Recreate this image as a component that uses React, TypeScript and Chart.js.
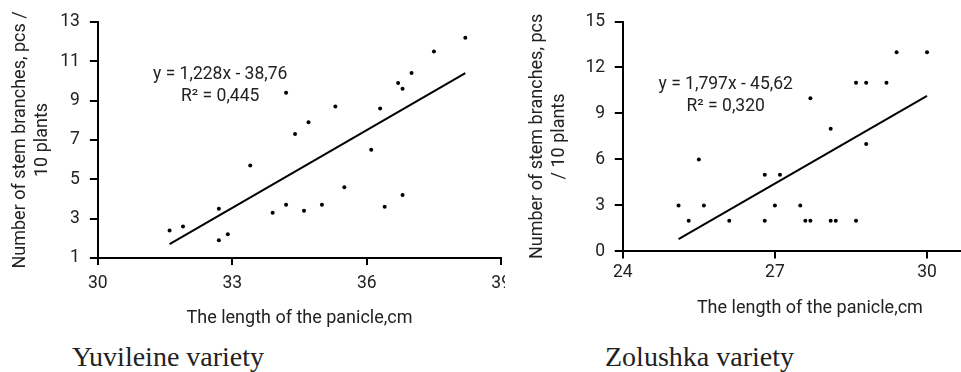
import React, { useEffect, useRef } from "react";
import { Chart, registerables } from "chart.js";

Chart.register(...registerables);

// ---- Yuvileine variety ----
const yuvLength = [38.2, 37.5, 37.0, 36.7, 36.8, 34.2, 35.3, 36.3, 34.7, 34.4, 36.1, 33.4, 35.5, 36.8, 34.2, 35.0, 36.4, 34.6, 33.9, 32.7, 31.9, 31.6, 32.9, 32.7];
const yuvBranches = [12.2, 11.5, 10.4, 9.9, 9.6, 9.4, 8.7, 8.6, 7.9, 7.3, 6.5, 5.7, 4.6, 4.2, 3.7, 3.7, 3.6, 3.4, 3.3, 3.5, 2.6, 2.4, 2.2, 1.9];
const yuvTrendX = [31.6, 38.2];
const yuvTrendY = [1.7, 10.4];
const yuvEquation = ["y = 1,228x - 38,76", "R² = 0,445"];
const yuvEqAt = { x: 32.73, y: [10.34, 9.21] };
const yuvXTicks = { min: 30, max: 39, step: 3 };
const yuvYTicks = { min: 1, max: 13, step: 2 };

// ---- Zolushka variety ----
const zolLength = [29.4, 30.0, 28.6, 28.8, 29.2, 27.7, 28.1, 28.8, 25.5, 26.8, 27.1, 25.1, 25.6, 27.0, 27.5, 25.3, 26.1, 26.8, 27.6, 27.7, 28.1, 28.2, 28.6];
const zolBranches = [13, 13, 11, 11, 11, 10, 8, 7, 6, 5, 5, 3, 3, 3, 3, 2, 2, 2, 2, 2, 2, 2, 2];
const zolTrendX = [25.1, 30.0];
const zolTrendY = [0.8, 10.15];
const zolEquation = ["y = 1,797x - 45,62", "R² = 0,320"];
const zolEqAt = { x: 26.03, y: [10.89, 9.42] };
const zolXTicks = { min: 24, max: 31.38, step: 3 };
const zolYTicks = { min: 0, max: 15, step: 3 };

const xTitle = "The length of the panicle,cm";
const yuvYTitle = ["Number of stem branches, pcs /", "10 plants"];
const zolYTitle = ["Number of stem branches, pcs", "/ 10 plants"];

const FONT = "Roboto";
const TEXT = "#222";

const eqPlugin = {
  id: "eq",
  afterDatasetsDraw(chart: any, _args: any, opts: any) {
    if (!opts || !opts.lines) return;
    const { ctx, scales } = chart;
    ctx.save();
    ctx.font = `17.5px ${FONT}`;
    ctx.fillStyle = TEXT;
    ctx.textAlign = "center";
    ctx.textBaseline = "middle";
    opts.lines.forEach((t: string, i: number) => {
      ctx.fillText(t, scales.x.getPixelForValue(opts.x), scales.y.getPixelForValue(opts.y[i]));
    });
    ctx.restore();
  },
};

type Cfg = {
  xs: number[];
  ys: number[];
  tx: number[];
  ty: number[];
  eq: string[];
  eqAt: { x: number; y: number[] };
  xt: { min: number; max: number; step: number };
  yt: { min: number; max: number; step: number };
  yTitle: string[];
  width: number;
  height: number;
  padding: any;
  yTitlePad: any;
  yTickPad: number;
  xTickPad: number;
  xTitlePad: any;
};

function Scatter({ cfg }: { cfg: Cfg }) {
  const ref = useRef<HTMLCanvasElement | null>(null);
  useEffect(() => {
    let chart: Chart | null = null;
    let cancelled = false;
    const make = () => {
      if (cancelled || !ref.current) return;
      const points = cfg.xs.map((x, i) => ({ x, y: cfg.ys[i] }));
      const trend = cfg.tx.map((x, i) => ({ x, y: cfg.ty[i] }));
      chart = new Chart(ref.current, {
        type: "scatter",
        data: {
          datasets: [
            {
              data: points,
              pointRadius: 2,
              pointHoverRadius: 2,
              backgroundColor: "#000",
              borderColor: "#000",
              borderWidth: 0,
            },
            {
              type: "line",
              data: trend,
              showLine: true,
              pointRadius: 0,
              borderColor: "#000",
              borderWidth: 2,
              fill: false,
            } as any,
          ],
        },
        options: {
          responsive: false,
          animation: false,
          devicePixelRatio: 1,
          layout: { padding: cfg.padding },
          plugins: {
            legend: { display: false },
            tooltip: { enabled: false },
            eq: { lines: cfg.eq, x: cfg.eqAt.x, y: cfg.eqAt.y },
          } as any,
          scales: {
            x: {
              type: "linear",
              min: cfg.xt.min,
              max: cfg.xt.max,
              ticks: {
                stepSize: cfg.xt.step,
                includeBounds: false,
                font: { family: FONT, size: 17.5 },
                color: TEXT,
                padding: cfg.xTickPad,
                maxRotation: 0,
              },
              grid: { drawOnChartArea: false, drawTicks: true, tickLength: 7, color: "#000", lineWidth: 2 },
              border: { display: true, color: "#000", width: 2 },
              title: {
                display: true,
                text: xTitle,
                font: { family: FONT, size: 18 },
                color: TEXT,
                padding: cfg.xTitlePad,
              },
            },
            y: {
              type: "linear",
              min: cfg.yt.min,
              max: cfg.yt.max,
              ticks: {
                stepSize: cfg.yt.step,
                font: { family: FONT, size: 17.5 },
                color: TEXT,
                padding: cfg.yTickPad,
              },
              grid: { drawOnChartArea: false, drawTicks: true, tickLength: 8, color: "#000", lineWidth: 2 },
              border: { display: true, color: "#000", width: 2 },
              title: {
                display: true,
                text: cfg.yTitle,
                font: { family: FONT, size: 18 },
                color: TEXT,
                padding: cfg.yTitlePad,
              },
            },
          },
        },
        plugins: [eqPlugin as any],
      });
    };
    const fonts: any = (document as any).fonts;
    if (fonts && fonts.load) {
      Promise.all([fonts.load(`17px ${FONT}`), fonts.load(`18px ${FONT}`)]).then(make, make);
    } else make();
    return () => {
      cancelled = true;
      if (chart) chart.destroy();
    };
  }, []);
  return (
    <canvas
      ref={ref}
      width={cfg.width}
      height={cfg.height}
      style={{ width: cfg.width, height: cfg.height, display: "block" }}
    />
  );
}

const leftCfg: Cfg = {
  xs: yuvLength,
  ys: yuvBranches,
  tx: yuvTrendX,
  ty: yuvTrendY,
  eq: yuvEquation,
  eqAt: yuvEqAt,
  xt: yuvXTicks,
  yt: yuvYTicks,
  yTitle: yuvYTitle,
  width: 519,
  height: 340,
  padding: { left: 0, right: 0, top: 22, bottom: 11 },
  yTitlePad: { top: 10, bottom: -3 },
  yTickPad: 10,
  xTickPad: 8,
  xTitlePad: { top: 5.5, bottom: 0 },
};

const rightCfg: Cfg = {
  xs: zolLength,
  ys: zolBranches,
  tx: zolTrendX,
  ty: zolTrendY,
  eq: zolEquation,
  eqAt: zolEqAt,
  xt: zolXTicks,
  yt: zolYTicks,
  yTitle: zolYTitle,
  width: 487,
  height: 330,
  padding: { left: 0, right: 10, top: 21.5, bottom: 11 },
  yTitlePad: { top: 7, bottom: 5.5 },
  yTickPad: 9.7,
  xTickPad: 3.5,
  xTitlePad: { top: 11, bottom: 0 },
};

const captionStyle: React.CSSProperties = {
  position: "absolute",
  top: 343,
  fontFamily: "'Liberation Serif', 'Times New Roman', serif",
  fontSize: 28,
  lineHeight: "28px",
  color: "#222",
  whiteSpace: "nowrap",
};

export default function App() {
  return (
    <div
      style={{
        position: "fixed",
        left: 0,
        top: 0,
        width: 961,
        height: 372,
        background: "#fff",
        overflow: "hidden",
      }}
    >
      <div style={{ position: "absolute", left: 0, top: 0, width: 505, height: 340, overflow: "hidden" }}>
        <Scatter cfg={leftCfg} />
      </div>
      <div style={{ position: "absolute", left: 520, top: 0, width: 441, height: 330, overflow: "hidden" }}>
        <Scatter cfg={rightCfg} />
      </div>
      <div style={{ ...captionStyle, left: 72 }}>Yuvileine variety</div>
      <div style={{ ...captionStyle, left: 605 }}>Zolushka variety</div>
    </div>
  );
}
